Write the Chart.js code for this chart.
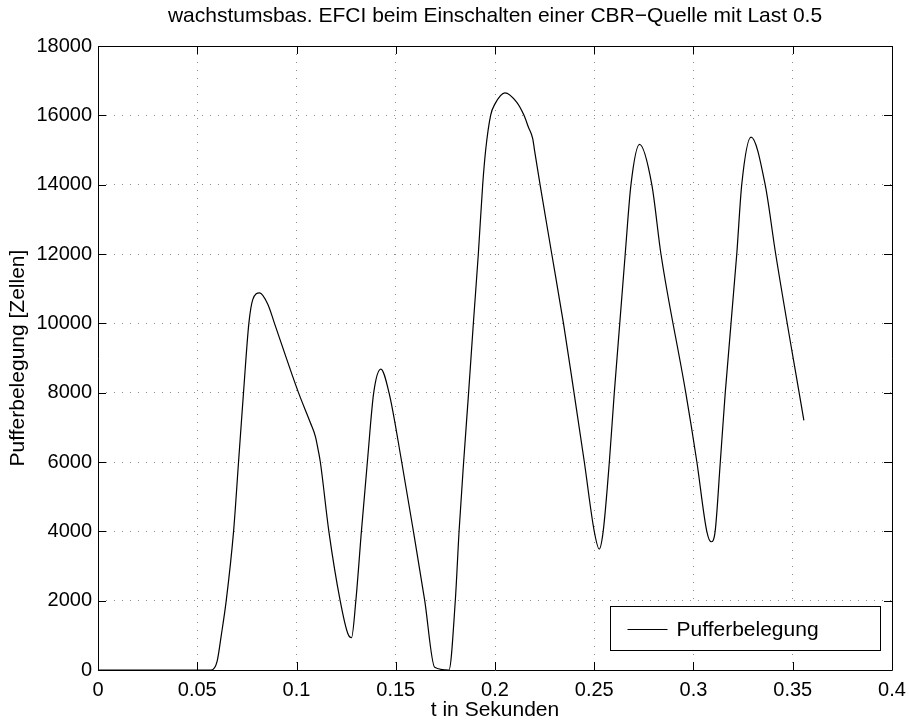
<!DOCTYPE html>
<html>
<head>
<meta charset="utf-8">
<script src="https://cdn.jsdelivr.net/npm/chart.js@4.4.1/dist/chart.umd.min.js"></script>
<style>
    html, body { margin: 0; padding: 0; background: #fff; }
    #wrap { width: 909px; height: 720px; }
</style>
</head>
<body>
<div id="wrap"><canvas id="chart" width="909" height="720"></canvas></div>
<script>
// ── Data ─────────────────────────────────────────────────────────────────────
const tSec = [
    0, 0.057, 0.0600, 0.0621, 0.0646, 0.0683, 0.0708, 0.0733, 0.0760, 0.0780,
    0.0814, 0.0856, 0.0889, 0.1010, 0.1070, 0.1096, 0.1108, 0.1120, 0.1163, 0.1220,
    0.1258, 0.1277, 0.1299, 0.1327, 0.1357, 0.1389, 0.1425, 0.1466, 0.1530, 0.1589,
    0.1646, 0.1696, 0.1768, 0.1800, 0.1819, 0.1842, 0.1867, 0.1891, 0.1916, 0.1938,
    0.1953, 0.1978, 0.2000, 0.2050, 0.2109, 0.2146, 0.2168, 0.2190, 0.2200, 0.2227,
    0.2286, 0.2345, 0.2398, 0.2450, 0.2500, 0.2525, 0.2545, 0.2576, 0.2601, 0.2656,
    0.2685, 0.2728, 0.2790, 0.2836, 0.2961, 0.3017, 0.3067, 0.3089, 0.3109, 0.3135,
    0.3160, 0.3218, 0.3243, 0.3290, 0.3361, 0.3414, 0.3556
];
const belegung = [
    0, 0, 250, 1000, 2000, 4000, 6000, 8000, 10000, 10690,
    10880, 10545, 10000, 8000, 7130, 6720, 6380, 6000, 4000, 2000,
    1060, 930, 2000, 4000, 6000, 8000, 8680, 8000, 6000, 4000,
    2000, 80, 0, 2000, 4000, 6000, 8000, 10000, 12000, 14000,
    15000, 16000, 16330, 16650, 16380, 16000, 15665, 15330, 14960, 14000,
    12000, 10000, 8000, 6000, 4000, 3490, 4000, 6000, 8000, 12000,
    14000, 15160, 14000, 12000, 8000, 6000, 4000, 3700, 4000, 6000,
    8000, 12000, 14000, 15370, 14000, 12000, 7200
];
const xTickVals = [0, 0.05, 0.1, 0.15, 0.2, 0.25, 0.3, 0.35, 0.4];
const yTickVals = [0, 2000, 4000, 6000, 8000, 10000, 12000, 14000, 16000, 18000];

const chartTitle = 'wachstumsbas. EFCI beim Einschalten einer CBR\u2212Quelle mit Last 0.5';
const xLabel = 't in Sekunden';
const yLabel = 'Pufferbelegung [Zellen]';
const seriesName = 'Pufferbelegung';

// ── Helpers ──────────────────────────────────────────────────────────────────
const FONT = 'Liberation Sans, Arial, Helvetica, sans-serif';
Chart.defaults.font.family = FONT;
Chart.defaults.font.size = 20;
Chart.defaults.color = '#000';

function fmtX(v) {
    return String(parseFloat(Number(v).toFixed(2)));
}

// title, box, inward ticks and legend drawn MATLAB-style
const matlabFrame = {
    id: 'matlabFrame',
    afterDraw(chart) {
        const ctx = chart.ctx;
        const a = chart.chartArea;
        const xs = chart.scales.x;
        const ys = chart.scales.y;
        const tick = 8;

        ctx.save();
        ctx.strokeStyle = '#000';
        ctx.lineWidth = 1;
        ctx.beginPath();
        ctx.rect(Math.round(a.left) + 0.5, Math.round(a.top) + 0.5,
            Math.round(a.right - a.left), Math.round(a.bottom - a.top));
        ctx.stroke();

        ctx.beginPath();
        xTickVals.forEach(function (v) {
            const px = Math.round(xs.getPixelForValue(v)) + 0.5;
            ctx.moveTo(px, a.bottom); ctx.lineTo(px, a.bottom - tick);
            ctx.moveTo(px, a.top); ctx.lineTo(px, a.top + tick);
        });
        yTickVals.forEach(function (v) {
            const py = Math.round(ys.getPixelForValue(v)) + 0.5;
            ctx.moveTo(a.left, py); ctx.lineTo(a.left + tick, py);
            ctx.moveTo(a.right, py); ctx.lineTo(a.right - tick, py);
        });
        ctx.stroke();

        // title
        ctx.fillStyle = '#000';
        ctx.font = '21px ' + FONT;
        ctx.textAlign = 'center';
        ctx.textBaseline = 'alphabetic';
        ctx.fillText(chartTitle, (a.left + a.right) / 2, 22);

        // legend box, bottom right inside the axes
        const bw = 270, bh = 44;
        const bx = Math.round(a.right - 12 - bw) + 0.5;
        const by = Math.round(a.bottom - 20 - bh) + 0.5;
        ctx.fillStyle = '#fff';
        ctx.fillRect(bx, by, bw, bh);
        ctx.strokeRect(bx, by, bw, bh);
        const cy = Math.round(by + bh / 2) + 0.5;
        ctx.beginPath();
        ctx.moveTo(bx + 17, cy);
        ctx.lineTo(bx + 57, cy);
        ctx.stroke();
        ctx.fillStyle = '#000';
        ctx.textAlign = 'left';
        ctx.textBaseline = 'middle';
        ctx.fillText(seriesName, bx + 66, cy + 1);
        ctx.restore();
    },
};

// ── Chart ────────────────────────────────────────────────────────────────────
new Chart(document.getElementById('chart'), {
    type: 'line',
    data: {
        datasets: [
            {
                label: seriesName,
                data: tSec.map(function (t, i) {
                    return { x: t, y: belegung[i] };
                }),
                borderColor: '#000',
                borderWidth: 1.2,
                pointRadius: 0,
                fill: false,
                cubicInterpolationMode: 'monotone',
            },
        ],
    },
    options: {
        responsive: false,
        animation: false,
        devicePixelRatio: 1,
        layout: { padding: { top: 46, left: 0, right: 17, bottom: 0 } },
        plugins: {
            legend: { display: false },
            title: { display: false },
            tooltip: { enabled: false },
        },
        scales: {
            x: {
                type: 'linear',
                min: 0,
                max: 0.4,
                afterBuildTicks: function (s) {
                    s.ticks = xTickVals.map(function (v) { return { value: v }; });
                },
                afterFit: function (s) {
                    s.height = 50;
                    s.paddingLeft = 0;
                    s.paddingRight = 0;
                },
                ticks: {
                    padding: 8,
                    maxRotation: 0,
                    autoSkip: false,
                    callback: function (v) { return fmtX(v); },
                },
                grid: { color: '#8c8c8c', lineWidth: 1, drawTicks: false },
                border: { display: false, dash: [1, 7] },
                title: {
                    display: true,
                    text: xLabel,
                    font: { size: 21 },
                    padding: { top: 0, bottom: -3 },
                },
            },
            y: {
                type: 'linear',
                min: 0,
                max: 18000,
                afterBuildTicks: function (s) {
                    s.ticks = yTickVals.map(function (v) { return { value: v }; });
                },
                afterFit: function (s) { s.width = 98; },
                ticks: {
                    padding: 6,
                    autoSkip: false,
                    callback: function (v) { return String(v); },
                },
                grid: { color: '#8c8c8c', lineWidth: 1, drawTicks: false },
                border: { display: false, dash: [1, 7] },
                title: {
                    display: true,
                    text: yLabel,
                    font: { size: 21 },
                    padding: { top: 6, bottom: 0 },
                },
            },
        },
    },
    plugins: [matlabFrame],
});
</script>
</body>
</html>
